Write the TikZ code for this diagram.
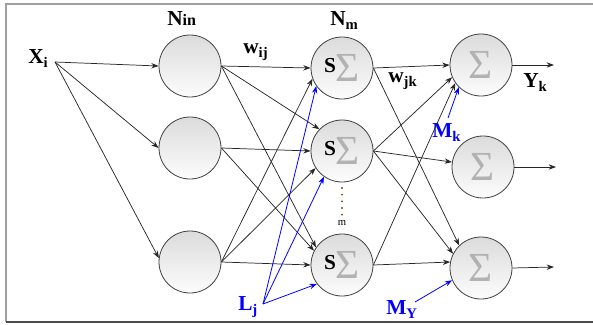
\documentclass[tikz,border=0pt]{standalone}
\usepackage{fontspec}
\setmainfont{Liberation Serif}
\usetikzlibrary{arrows.meta}
\newcommand\lsub[1]{\raisebox{-3.5pt}{\fontsize{11}{12}\selectfont #1}}
\begin{document}
\begin{tikzpicture}[x=0.75pt,y=-0.75pt,
  neuron/.style={circle, draw=black!75, line width=0.6pt, minimum size=46.5pt, inner sep=0pt, top color=gray!28, bottom color=gray!2},
  conn/.style={line width=0.55pt, draw=black!85, -{Stealth[length=5.5pt,width=4pt]}},
  bconn/.style={line width=0.6pt, draw=blue, -{Stealth[length=5.5pt,width=4pt]}},
  lbl/.style={font=\fontsize{16}{18}\selectfont\bfseries, inner sep=0pt, anchor=base west},
  blbl/.style={lbl, text=blue},
]
\useasboundingbox (0,0) rectangle (593,325);
% frame
\draw[gray!75, line width=1.5pt] (600,4) -- (6,4) -- (6,322);
\draw[black!70, line width=1.5pt] (6,322) -- (600,322);

\newcommand\sg{\textcolor{black!30}{\fontsize{31}{31}\selectfont\mdseries Σ}}
\newcommand\hs{\raisebox{6.5pt}{\fontsize{16}{16}\selectfont\bfseries S}\sg}

% nodes
\node[neuron] (i1) at (190,66) {};
\node[neuron] (i2) at (190,148) {};
\node[neuron] (i3) at (190,262) {};
\node[neuron] (h1) at (342,68) {\hs};
\node[neuron] (h2) at (342,151) {\hs};
\node[neuron] (h3) at (342,265) {\hs};
\node[neuron] (o1) at (481,65) {\sg};
\node[neuron] (o2) at (483,167) {\sg};
\node[neuron] (o3) at (481,268) {\sg};

% labels
\node[lbl] (xi) at (28,63) {X\lsub{i}};
\node[lbl] (nin) at (167,25) {N{\fontsize{12}{13}\selectfont in}};
\node[lbl] (nm) at (330,25) {N\lsub{m}};
\node[lbl] (wij) at (243,53) {w\lsub{ij}};
\node[lbl] (wjk) at (388,82) {w\lsub{jk}};
\node[lbl] (yk) at (523,87) {Y\lsub{k}};
\node[blbl] (mk) at (432,137) {M\lsub{k}};
\node[blbl] (my) at (386,314) {M\lsub{Y}};
\node[blbl] (lj) at (238,310) {L\lsub{j}};

% sources and ends
\coordinate (xs) at (55,62);
\coordinate (ls) at (263,304);
\coordinate (mks) at (448,118);
\coordinate (mys) at (415,302);
\coordinate (y1) at (554,65);
\coordinate (y2) at (556,167);
\coordinate (y3) at (554,267);

% dots
\draw[color=orange!50!black, line width=1.6pt, line cap=round, dash pattern=on 0pt off 5pt] (342,188) -- (342,218);
\node[font=\fontsize{8}{9}\selectfont, inner sep=0pt] (mdot) at (342,223) {m};

% input arrows
\draw[conn] (xs) -- (i1.west);
\draw[conn] (xs) -- (i2.west);
\draw[conn] (xs) -- (i3.173);

% input -> hidden
\draw[conn] (i1.east) -- (h1.west);
\draw[conn] (i1.east) -- (h2.136);
\draw[conn] (i1.east) -- (h3.146);
\draw[conn] (i2.east) -- (h2.west);
\draw[conn] (i2.east) -- (h3.153);
\draw[conn] (i3.east) -- (h1.200);
\draw[conn] (i3.east) -- (h2.213);
\draw[conn] (i3.east) -- (h3.west);

% blue L
\draw[bconn] (ls) -- (h1.215);
\draw[bconn] (ls) -- (h2.235);
\draw[bconn] (ls) -- (h3.217);

% hidden -> output
\draw[conn] (h1.east) -- (o1.west);
\draw[conn] (h1.east) -- (o3.134);
\draw[conn] (h2.east) -- (o1.203);
\draw[conn] (h2.east) -- (o2.171);
\draw[conn] (h2.east) -- (o3.153);
\draw[conn] (h3.east) -- (o1.215);
\draw[conn] (h3.east) -- (o3.169);

\draw[bconn] (mks) -- (o1.225);
\draw[bconn] (mys) -- (o3.203);

% outputs
\draw[conn] (o1.east) -- (y1);
\draw[conn] (o2.east) -- (y2);
\draw[conn] (o3.east) -- (y3);
\end{tikzpicture}
\end{document}
